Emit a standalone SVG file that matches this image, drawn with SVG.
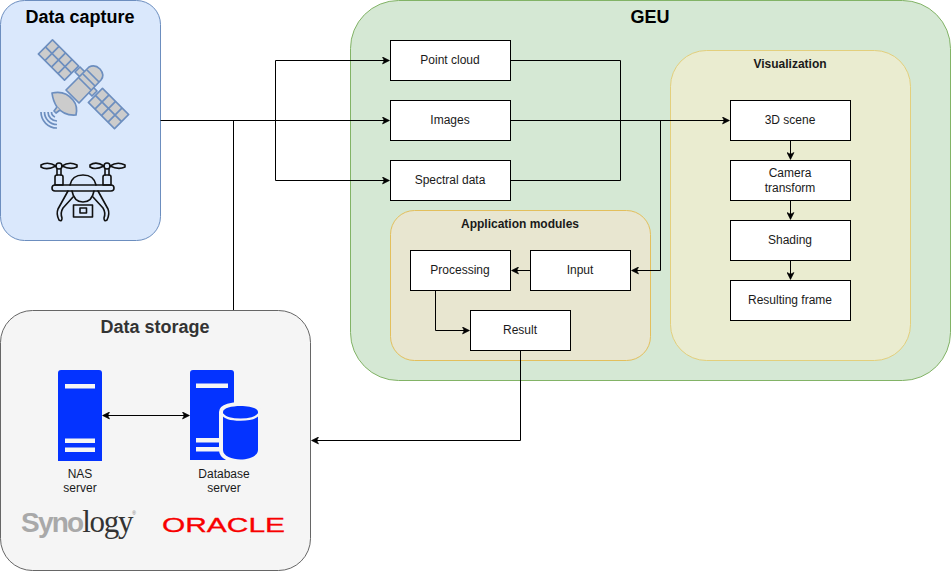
<svg xmlns="http://www.w3.org/2000/svg" width="952" height="571" viewBox="0 0 952 571">
<style>
text{font-family:"Liberation Sans",Arial,sans-serif;text-anchor:middle;fill:#1a1a1a}
.n{font-size:12px}
.t{font-size:12px;font-weight:bold}
.h{font-size:18px;font-weight:bold;fill:#000}
.b rect{fill:#fff;stroke:#000;stroke-width:1}
.c{fill:none;stroke:#000;stroke-width:1}
.srv{fill:#0433ff}
.bar{fill:#f5f5f5}
.sat{fill:#ccc;stroke:#6c8ebf;stroke-width:1.700;stroke-linejoin:round}
.dr{fill:none;stroke:#111;stroke-width:1.600;stroke-linejoin:round;stroke-linecap:round}
</style>
<defs>
<marker id="a" viewBox="0 0 8 8" refX="7" refY="4" markerWidth="8" markerHeight="8" markerUnits="userSpaceOnUse" orient="auto-start-reverse"><path d="M0.5 0.5L7.500 4L0.5 7.500L2.200 4Z" fill="#000" stroke="#000" stroke-width="0.6"/></marker>
<g id="panel"><rect x="-18.500" y="-10" width="37" height="20" class="sat"/><path class="sat" d="M-9.250 -10V10M0 -10V10M9.250 -10V10M-18.500 0H18.500"/></g>
</defs>
<rect width="952" height="571" fill="#fff"/>

<g id="data-capture">
<rect x="0.500" y="0.500" width="160" height="240" rx="24" fill="#dae8fc" stroke="#6c8ebf"/>
<text class="h" x="80" y="23">Data capture</text>
<g id="satellite">
<use href="#panel" transform="translate(58.500,60) rotate(45)"/>
<use href="#panel" transform="translate(108.500,108.500) rotate(45)"/>
<path class="sat" d="M75 72L80 67L86 73L81 78ZM86 90L91 85L97 91L92 96Z"/>
<path class="sat" d="M66 90L89 67Q95 64 100 69Q105 75 101 80L79 103Z"/>
<path class="sat" d="M79 78L91 90M83 74L95 86M87 70L99 82"/>
<path class="sat" d="M52 93Q65 90 73 100Q78 106 76 115Q64 116 57 107Q53 101 52 93Z"/>
<path class="sat" d="M57 107L54 111L56 113L60 110" stroke-width="1.300"/>
<path d="M41 112A16 16 0 0 0 57 128M44.500 112A12.500 12.500 0 0 0 57 124.500M48 112A9 9 0 0 0 57 121M51.500 112A5.500 5.500 0 0 0 55 117" fill="none" stroke="#6c8ebf" stroke-width="1.700"/>
</g>
<g id="drone" class="dr">
<path d="M56 166C50 162 44 163 41 165L41 167C44 169 50 169 56 166ZM62 166C68 162 73 163 77 165L77 167C73 169 68 169 62 166ZM104 166C98 162 93 163 90 165L90 167C93 169 98 169 104 166ZM110 166C116 162 121 163 125 165L125 167C121 169 116 169 110 166Z"/>
<circle cx="59" cy="166" r="3"/><circle cx="107" cy="166" r="3"/>
<path d="M57 169L57 175M61 169L61 175M105 169L105 175M109 169L109 175"/>
<path d="M55 185V177Q55 175 57 175H61Q63 175 63 177V185ZM103 185V177Q103 175 105 175H109Q111 175 111 177V185Z"/>
<path d="M70 185Q72 175 83 175Q94 175 96 185"/>
<rect x="52" y="185" width="62" height="6" rx="3"/>
<path d="M72 191Q74 202 83 202Q92 202 94 191"/>
<path d="M68 191L58 209Q56 214 59 220Q62 222 62 218Q60 213 63 208L73 197M98 191L108 209Q110 214 107 220Q104 222 104 218Q106 213 103 208L93 197"/>
<rect x="73.500" y="205" width="19" height="12" fill="#dae8fc"/>
<rect x="80" y="208" width="6.500" height="5"/>
</g>
</g>

<g id="data-storage">
<rect x="0.500" y="310.500" width="310" height="260" rx="32" fill="#f5f5f5" stroke="#666"/>
<text class="h" x="155" y="333" style="fill:#333">Data storage</text>
<g id="nas-server">
<path class="srv" d="M58 461V373Q58 370 61 370H99Q102 370 102 373V461Z"/>
<rect class="bar" x="65" y="384" width="30" height="4.500"/>
<rect class="bar" x="65" y="438.500" width="30" height="4.500"/>
<rect class="bar" x="65" y="447.500" width="30" height="4.500"/>
<text class="n" x="80" y="478">NAS</text>
<text class="n" x="80" y="492">server</text>
</g>
<g id="database-server">
<path class="srv" d="M190 460V373Q190 370 193 370H231Q234 370 234 373V460Z"/>
<rect class="bar" x="196" y="383.500" width="32" height="4.500"/>
<rect class="bar" x="196" y="438" width="32" height="4.500"/>
<rect class="bar" x="196" y="447" width="32" height="4.500"/>
<path d="M223 412V450C223 456 232 459.500 240.500 459.500C249 459.500 258 456 258 450V412C258 404 223 404 223 412Z" fill="#f5f5f5" stroke="#f5f5f5" stroke-width="8"/>
<path d="M223 412V450C223 456 232 459.500 240.500 459.500C249 459.500 258 456 258 450V412C258 404 223 404 223 412Z" class="srv"/>
<path d="M222.500 414C226 421.500 255 421.500 258.500 414" fill="none" stroke="#f5f5f5" stroke-width="2.200"/>
<text class="n" x="224" y="478">Database</text>
<text class="n" x="224" y="492">server</text>
</g>
<text x="21" y="532" style="text-anchor:start;font-size:28px;font-weight:bold;fill:#a9a9a9;letter-spacing:-1.800px">Syno<tspan style="font-family:'Liberation Serif',serif;font-weight:normal;font-size:31px;fill:#333;letter-spacing:-1.300px">logy</tspan><tspan dy="-17" style="font-size:5px;font-weight:normal;fill:#777;letter-spacing:0">®</tspan></text>
<text x="223.500" y="532" style="font-size:21px;fill:#f80000;stroke:#f80000;stroke-width:0.300" textLength="123" lengthAdjust="spacingAndGlyphs">ORACLE</text>
</g>

<g id="geu">
<rect x="350.500" y="0.500" width="600" height="380" rx="48" fill="#d5e8d4" stroke="#82b366"/>
<text class="h" x="650" y="23">GEU</text>
</g>
<g id="visualization">
<rect x="670.500" y="50.500" width="240" height="310" rx="36" fill="#eaecd0" stroke="#e3cf7c"/>
<text class="t" x="790" y="68">Visualization</text>
</g>
<g id="application-modules">
<rect x="390.500" y="210.500" width="260" height="150" rx="24" fill="#e8e6d0" stroke="#e3bf5c"/>
<text class="t" x="520" y="228">Application modules</text>
</g>

<g id="connectors">
<path class="c" d="M160.500 120.500H389" marker-end="url(#a)"/>
<path class="c" d="M233.500 120.500V310"/>
<path class="c" d="M275.500 120.500V60.500H389" marker-end="url(#a)"/>
<path class="c" d="M275.500 120.500V180.500H389" marker-end="url(#a)"/>
<path class="c" d="M511 60.500H620.500V180.500H511"/>
<path class="c" d="M511 120.500H729" marker-end="url(#a)"/>
<path class="c" d="M660.500 120.500V270.500H632" marker-end="url(#a)"/>
<path class="c" d="M530 270.500H512" marker-end="url(#a)"/>
<path class="c" d="M435.500 291V330.500H469" marker-end="url(#a)"/>
<path class="c" d="M520.500 351V440.500H312" marker-end="url(#a)"/>
<path class="c" d="M790.500 141V159" marker-end="url(#a)"/>
<path class="c" d="M790.500 201V219" marker-end="url(#a)"/>
<path class="c" d="M790.500 261V279" marker-end="url(#a)"/>
<path class="c" d="M103 415.500H189" marker-start="url(#a)" marker-end="url(#a)"/>
</g>

<g id="point-cloud" class="b"><rect x="390.500" y="40.500" width="120" height="40"/><text class="n" x="450" y="64">Point cloud</text></g>
<g id="images" class="b"><rect x="390.500" y="100.500" width="120" height="40"/><text class="n" x="450" y="124">Images</text></g>
<g id="spectral-data" class="b"><rect x="390.500" y="160.500" width="120" height="40"/><text class="n" x="450" y="184">Spectral data</text></g>
<g id="processing" class="b"><rect x="410.500" y="250.500" width="100" height="40"/><text class="n" x="460" y="274">Processing</text></g>
<g id="input" class="b"><rect x="530.500" y="250.500" width="100" height="40"/><text class="n" x="580" y="274">Input</text></g>
<g id="result" class="b"><rect x="470.500" y="310.500" width="100" height="40"/><text class="n" x="520" y="334">Result</text></g>
<g id="scene" class="b"><rect x="730.500" y="100.500" width="120" height="40"/><text class="n" x="790" y="124">3D scene</text></g>
<g id="camera" class="b"><rect x="730.500" y="160.500" width="120" height="40"/><text class="n" x="790" y="177">Camera</text><text class="n" x="790" y="192">transform</text></g>
<g id="shading" class="b"><rect x="730.500" y="220.500" width="120" height="40"/><text class="n" x="790" y="244">Shading</text></g>
<g id="frame" class="b"><rect x="730.500" y="280.500" width="120" height="40"/><text class="n" x="790" y="304">Resulting frame</text></g>
</svg>
